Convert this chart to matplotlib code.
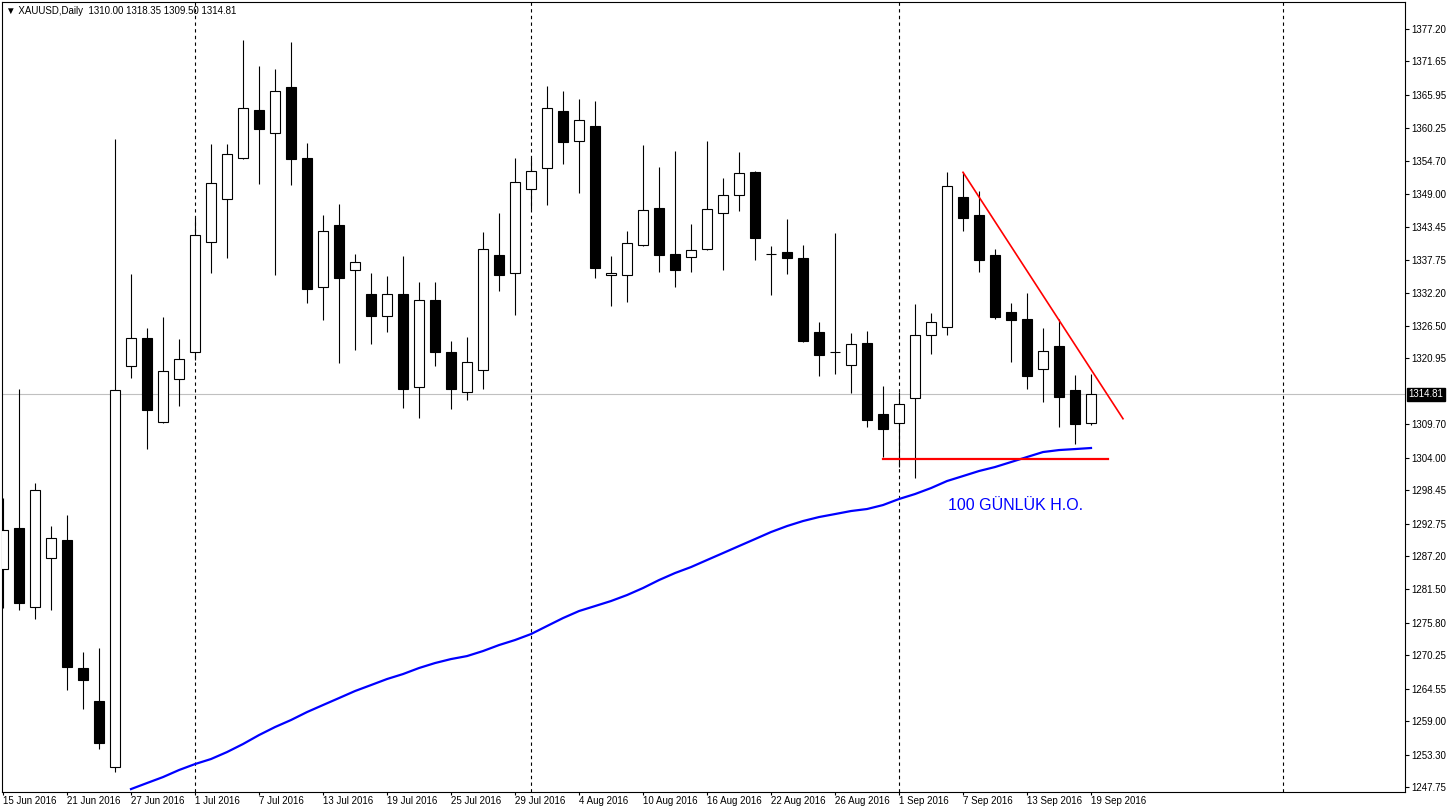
import numpy as np
import matplotlib.pyplot as plt

###############################################################################
# Dane: XAUUSD, świece dzienne
###############################################################################

opens = [1284.98, 1291.98, 1278.49, 1286.86, 1289.93, 1268.08, 1262.44, 1251.17,
         1319.65, 1324.43, 1310.09, 1317.43, 1322.04, 1340.82, 1348.17, 1355.17,
         1363.37, 1359.44, 1367.29, 1355.17, 1333.14, 1343.73, 1336.04, 1331.94,
         1328.19, 1331.94, 1316.06, 1330.92, 1322.04, 1315.21, 1318.97, 1338.60,
         1335.53, 1349.87, 1353.46, 1363.19, 1358.07, 1360.63, 1335.19, 1335.19,
         1340.31, 1346.63, 1338.77, 1338.26, 1339.63, 1345.78, 1348.85, 1352.78,
         1338.77, 1339.12, 1338.09, 1325.45, 1322.04, 1319.82, 1323.58, 1311.45,
         1309.91, 1314.18, 1324.94, 1326.31, 1348.51, 1345.43, 1338.60, 1328.87,
         1327.67, 1319.14, 1323.06, 1315.55, 1310.00]
highs = [1297.11, 1315.72, 1299.67, 1292.33, 1294.20, 1270.81, 1271.49, 1358.41,
         1335.36, 1326.14, 1328.02, 1324.26, 1344.92, 1357.56, 1357.56, 1375.32,
         1370.88, 1370.37, 1374.98, 1357.73, 1345.43, 1347.31, 1338.77, 1335.53,
         1335.02, 1338.43, 1333.99, 1333.99, 1323.92, 1324.60, 1342.53, 1345.78,
         1355.17, 1355.17, 1367.46, 1366.61, 1365.24, 1364.90, 1338.43, 1342.70,
         1357.39, 1353.63, 1356.36, 1343.90, 1358.07, 1351.75, 1356.19, 1352.95,
         1340.14, 1344.75, 1340.31, 1327.16, 1342.36, 1325.28, 1325.63, 1316.23,
         1315.21, 1330.24, 1328.70, 1352.78, 1352.78, 1349.53, 1339.63, 1330.41,
         1332.11, 1326.14, 1327.67, 1318.11, 1318.35]
lows = [1278.32, 1277.98, 1276.44, 1277.98, 1264.32, 1261.07, 1254.24, 1250.32,
        1317.60, 1305.47, 1309.90, 1312.82, 1320.67, 1335.53, 1338.09, 1355.00,
        1350.73, 1335.19, 1350.56, 1330.41, 1327.50, 1320.16, 1322.38, 1323.41,
        1325.45, 1312.48, 1310.77, 1319.65, 1312.30, 1313.84, 1315.72, 1332.46,
        1328.36, 1346.46, 1347.14, 1354.14, 1349.19, 1334.68, 1329.89, 1330.58,
        1340.14, 1335.70, 1333.14, 1335.70, 1339.40, 1336.04, 1346.12, 1337.75,
        1331.77, 1335.36, 1323.75, 1317.94, 1318.28, 1315.04, 1309.23, 1304.11,
        1302.40, 1300.52, 1321.70, 1324.94, 1342.70, 1335.70, 1327.67, 1320.33,
        1315.72, 1313.50, 1309.23, 1306.33, 1309.50]
closes = [1291.64, 1279.18, 1298.47, 1290.28, 1268.25, 1266.03, 1255.27, 1315.55,
          1324.43, 1312.13, 1318.79, 1320.84, 1342.02, 1350.90, 1355.85, 1363.71,
          1360.12, 1366.61, 1355.00, 1332.80, 1342.70, 1334.68, 1337.41, 1328.19,
          1331.94, 1315.72, 1330.92, 1322.04, 1315.72, 1320.33, 1339.63, 1335.19,
          1351.07, 1352.95, 1363.71, 1357.90, 1361.66, 1336.38, 1335.53, 1340.65,
          1346.29, 1338.60, 1336.04, 1339.46, 1346.46, 1348.85, 1352.61, 1341.51,
          1338.77, 1338.09, 1323.92, 1321.53, 1322.04, 1323.41, 1310.43, 1308.89,
          1313.16, 1324.94, 1327.16, 1350.39, 1344.92, 1337.75, 1328.02, 1327.50,
          1317.94, 1322.21, 1314.35, 1309.74, 1314.81]

# 100-dniowa średnia krocząca (od świecy nr 8)
ma_start = 8
ma100 = [1247.41, 1248.44, 1249.46, 1250.66, 1251.68, 1252.54, 1253.73,
         1255.10, 1256.63, 1258.00, 1259.20, 1260.56, 1261.76, 1262.95, 1264.15,
         1265.17, 1266.20, 1267.05, 1268.08, 1268.93, 1269.61, 1270.12, 1270.98,
         1272.00, 1272.86, 1273.88, 1275.25, 1276.61, 1277.81, 1278.66, 1279.52,
         1280.54, 1281.74, 1283.10, 1284.30, 1285.32, 1286.52, 1287.71, 1288.91,
         1290.10, 1291.30, 1292.32, 1293.18, 1293.86, 1294.37, 1294.89, 1295.23,
         1295.91, 1296.94, 1297.79, 1298.81, 1300.01, 1300.86, 1301.72, 1302.40,
         1303.25, 1304.11, 1304.96, 1305.30, 1305.47, 1305.65]

date_labels = ["15 Jun 2016", "21 Jun 2016", "27 Jun 2016", "1 Jul 2016",
               "7 Jul 2016", "13 Jul 2016", "19 Jul 2016", "25 Jul 2016",
               "29 Jul 2016", "4 Aug 2016", "10 Aug 2016", "16 Aug 2016",
               "22 Aug 2016", "26 Aug 2016", "1 Sep 2016", "7 Sep 2016",
               "13 Sep 2016", "19 Sep 2016"]

price_ticks = [1377.20, 1371.65, 1365.95, 1360.25, 1354.70, 1349.00, 1343.45,
               1337.75, 1332.20, 1326.50, 1320.95, 1309.70, 1304.00, 1298.45,
               1292.75, 1287.20, 1281.50, 1275.80, 1270.25, 1264.55, 1259.00,
               1253.30, 1247.75]

month_separators = [12, 33, 56, 80]   # indeksy świec
last_price = 1314.81
support = 1303.77
trend_x = [60, 70]
trend_y = [1352.73, 1310.65]

font = ["Liberation Sans", "DejaVu Sans"]

###############################################################################
# Wykres
###############################################################################

fig = plt.figure(figsize=(14.5, 8.11), dpi=100)
ax = fig.add_axes([2 / 1450, 19 / 811, 1403 / 1450, 790 / 811])

o = np.array(opens)
h = np.array(highs)
l = np.array(lows)
c = np.array(closes)
x = np.arange(len(o))

up = c >= o
ax.vlines(x, l, h, color="black", linewidth=0.8, zorder=2)
ax.bar(x, np.abs(c - o), bottom=np.minimum(o, c), width=0.62,
       color=np.where(up, "white", "black"), edgecolor="black",
       linewidth=0.8, zorder=3)

for m in month_separators:
    ax.axvline(m, color="black", linestyle=(0, (3, 3)), linewidth=0.8, zorder=1)

ax.axhline(last_price, color="#c0c0c0", linewidth=0.8, zorder=1)

xm = np.arange(ma_start, ma_start + len(ma100))
ax.plot(xm, ma100, color="#0000ff", linewidth=1.6, zorder=4)

ax.plot([55, 69.05], [support, support], color="#ff0000", linewidth=1.6, zorder=5)
ax.plot(trend_x, trend_y, color="#ff0000", linewidth=1.2, zorder=5)

ax.text(59.05, 1295.9, "100 GÜNLÜK H.O.", color="#0000ff", fontsize=11.5,
        family="Liberation Sans", va="center", ha="left", zorder=6)

ax.set_xlim(-0.0625, 87.625)
ax.set_ylim(1246.91, 1381.81)

ax.yaxis.tick_right()
ax.set_yticks(price_ticks)
ax.set_yticklabels([f"{p:.2f}" for p in price_ticks], family=font)
ax.set_xticks(np.arange(0, 4 * len(date_labels), 4))
ax.set_xticklabels(date_labels, ha="left", family=font)
ax.tick_params(axis="y", direction="out", length=3, width=0.8,
               labelsize=7, color="black", pad=1.5)
ax.tick_params(axis="x", direction="out", length=2.5, width=0.8,
               labelsize=7, color="black", pad=0.5)

for s in ax.spines.values():
    s.set_linewidth(0.8)

ax.annotate(f"{last_price:.2f}", xy=(1, last_price),
            xycoords=("axes fraction", "data"), xytext=(2.5, 0),
            textcoords="offset points", va="center", ha="left", fontsize=7,
            family=font, color="white", annotation_clip=False,
            bbox=dict(boxstyle="square,pad=0.15", fc="black", ec="black"))

ax.text(0.003, 0.995, "\u25bc XAUUSD,Daily  1310.00 1318.35 1309.50 1314.81",
        transform=ax.transAxes, fontsize=7, family=font, va="top", ha="left")

fig.savefig("out.png", dpi=100)
